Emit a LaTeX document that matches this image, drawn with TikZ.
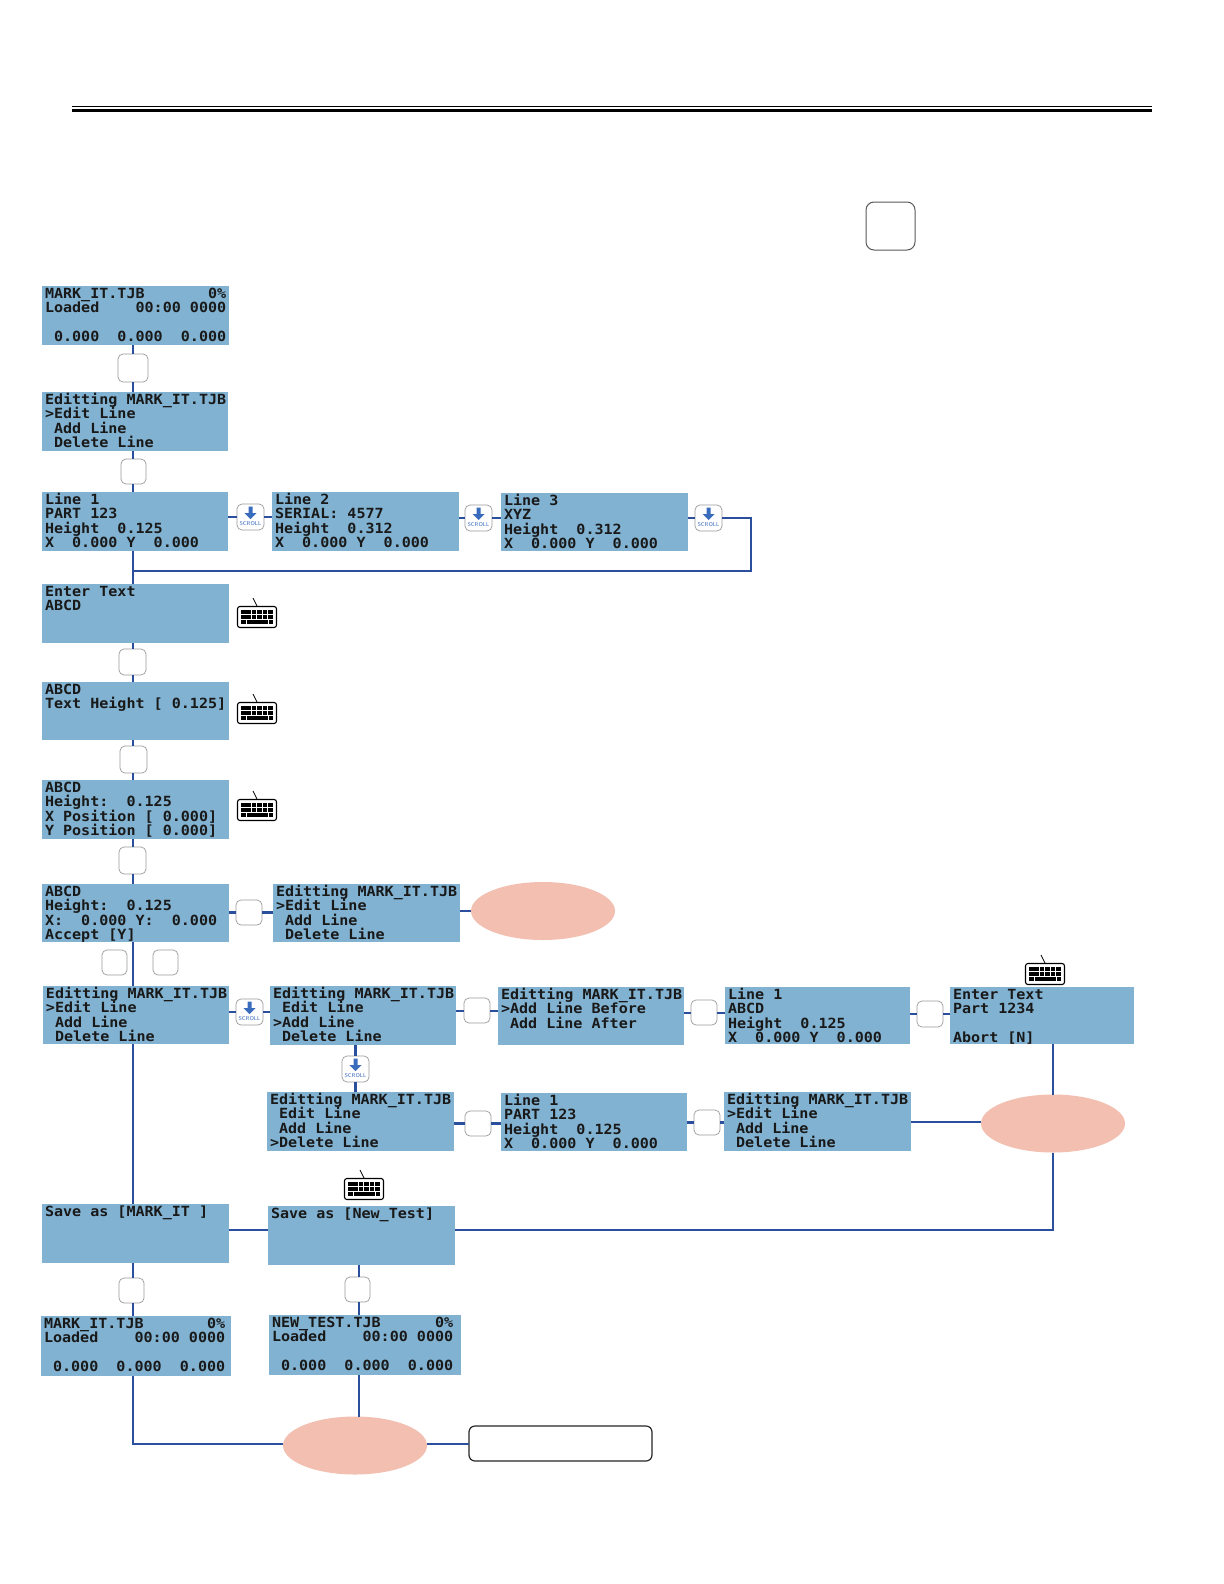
\documentclass[tikz,border=0pt]{standalone}
\usepackage{fontspec}
\setmonofont[FakeStretch=1.075]{DejaVu Sans Mono}
\usetikzlibrary{shapes.geometric}
\definecolor{lcdblue}{HTML}{81B2D1}
\definecolor{wireblue}{HTML}{2A4F9C}
\definecolor{salmon}{HTML}{F2BFB1}
\definecolor{btngray}{HTML}{9A9A9A}
\definecolor{scrollblue}{HTML}{3A6CBE}
\tikzset{
  lcdbox/.style={fill=lcdblue,draw=none,inner sep=0pt,outer sep=0pt},
  lcdtext/.style={inner sep=0pt,outer sep=0pt,align=left,anchor=north west,text=black!90,
    font=\ttfamily\bfseries\fontsize{7}{7.33}\selectfont},
  wire/.style={draw=wireblue,line width=1pt},
  thickwire/.style={draw=wireblue,line width=1.35pt},
  btn/.style={draw=btngray,fill=white,rounded corners=2.5pt,line width=0.35pt,inner sep=0pt,outer sep=0pt},
  oval/.style={ellipse,fill=salmon,draw=none,inner sep=0pt,outer sep=0pt},
  kbkey/.style={fill=black,draw=none},
  scrolltext/.style={text=scrollblue,inner sep=0pt,font=\sffamily\fontsize{2.8}{3}\selectfont}
}
% name, x1, y1, x2, y2, text
\newcommand{\lcd}[6]{%
  \node[lcdbox,minimum width={(#4-#2)*0.5pt},minimum height={(#5-#3)*0.5pt}] (#1) at ({(#2+#4)/2},{(#3+#5)/2}) {};
  \node[lcdtext] (#1t) at ({#2+3},{#3}) {\rule{0pt}{6pt}#6};
}
\newcommand{\btnbox}[5]{%
  \node[btn,minimum width={(#4-#2)*0.5pt},minimum height={(#5-#3)*0.5pt}] (#1) at ({(#2+#4)/2},{(#3+#5)/2}) {};
}
% name, x1, y1 (27 px wide button with arrow and word)
\newcommand{\scrollbtn}[3]{%
  \btnbox{#1}{#2}{#3}{#2+27}{#3+26}
  \fill[scrollblue] ({#2+11.5},{#3+2.5}) -- ({#2+15.5},{#3+2.5}) -- ({#2+15.5},{#3+9}) -- ({#2+19.5},{#3+9})
     -- ({#2+13.5},{#3+15}) -- ({#2+7.5},{#3+9}) -- ({#2+11.5},{#3+9}) -- cycle;
  \node[scrolltext] (#1t) at ({#2+13.5},{#3+19.5}) {SCROLL};
}
% x1, y1 : body is 40 x 22 px, the cord rises above
\newcommand{\kbd}[2]{%
  \draw[line width=0.55pt,fill=white,rounded corners=1.2pt] ({#1+0.5},{#2+0.5}) rectangle ({#1+39.5},{#2+21.5});
  \draw[line width=0.4pt] ({#1+20},{#2}) -- ({#1+16},{#2-8});
  \foreach \kk in {0,...,5}{\fill[kbkey] ({#1+4+\kk*5.4},{#2+4}) rectangle ++(4.5,4);}
  \foreach \kk in {0,...,5}{\fill[kbkey] ({#1+4+\kk*5.4},{#2+9}) rectangle ++(4.5,4);}
  \fill[kbkey] ({#1+4},{#2+14}) rectangle ++(4.5,4);
  \fill[kbkey] ({#1+9.5},{#2+14}) rectangle ++(21,4);
  \fill[kbkey] ({#1+31.5},{#2+14}) rectangle ++(4.5,4);
}
\begin{document}
\begin{tikzpicture}[x=0.5pt,y=-0.5pt]
\lineskiplimit=-100pt\relax
\useasboundingbox (0,0) rectangle (1224,1584);
\fill[white] (0,0) rectangle (1224,1584);
% header rules
\draw[line width=0.5pt] (72,106.5) -- (1152,106.5);
\draw[line width=1.6pt] (72,110.5) -- (1152,110.5);
\node[draw=black!65,fill=white,rounded corners=4pt,line width=0.5pt,minimum width=24.5pt,minimum height=24pt,inner sep=0pt] (topkey) at (890.5,226) {};
% LCD screens
\lcd{a}{42}{286}{229}{345}{MARK\_IT.TJB~~~~~~~0\%\\Loaded~~~~00:00~0000\\~\\~0.000~~0.000~~0.000}
\lcd{b}{42}{392}{228}{451}{Editting~MARK\_IT.TJB\\>Edit~Line\\~Add~Line\\~Delete~Line}
\lcd{c}{42}{492}{228}{551}{Line~1\\PART~123\\Height~~0.125\\X~~0.000~Y~~0.000}
\lcd{d}{272}{492}{459}{551}{Line~2\\SERIAL:~4577\\Height~~0.312\\X~~0.000~Y~~0.000}
\lcd{e}{501}{493}{688}{551}{Line~3\\XYZ\\Height~~0.312\\X~~0.000~Y~~0.000}
\lcd{f}{42}{584}{229}{643}{Enter~Text\\ABCD}
\lcd{g}{42}{682}{229}{740}{ABCD\\Text~Height~[~0.125]}
\lcd{h}{42}{780}{229}{839}{ABCD\\Height:~~0.125\\X~Position~[~0.000]\\Y~Position~[~0.000]}
\lcd{i}{42}{884}{229}{942}{ABCD\\Height:~~0.125\\X:~~0.000~Y:~~0.000\\Accept~[Y]}
\lcd{j}{273}{884}{460}{942}{Editting~MARK\_IT.TJB\\>Edit~Line\\~Add~Line\\~Delete~Line}
\lcd{k}{43}{986}{229}{1044}{Editting~MARK\_IT.TJB\\>Edit~Line\\~Add~Line\\~Delete~Line}
\lcd{l}{270}{986}{456}{1045}{Editting~MARK\_IT.TJB\\~Edit~Line\\>Add~Line\\~Delete~Line}
\lcd{m}{498}{987}{684}{1045}{Editting~MARK\_IT.TJB\\>Add~Line~Before\\~Add~Line~After}
\lcd{n}{725}{987}{910}{1044}{Line~1\\ABCD\\Height~~0.125\\X~~0.000~Y~~0.000}
\lcd{o}{950}{987}{1134}{1044}{Enter~Text\\Part~1234\\~\\Abort~[N]}
\lcd{p}{267}{1092}{454}{1151}{Editting~MARK\_IT.TJB\\~Edit~Line\\~Add~Line\\>Delete~Line}
\lcd{q}{501}{1093}{687}{1151}{Line~1\\PART~123\\Height~~0.125\\X~~0.000~Y~~0.000}
\lcd{r}{724}{1092}{911}{1151}{Editting~MARK\_IT.TJB\\>Edit~Line\\~Add~Line\\~Delete~Line}
\lcd{s}{42}{1204}{229}{1263}{Save~as~[MARK\_IT~]}
\lcd{t}{268}{1206}{455}{1265}{Save~as~[New\_Test]}
\lcd{u}{41}{1316}{231}{1376}{MARK\_IT.TJB~~~~~~~0\%\\Loaded~~~~00:00~0000\\~\\~0.000~~0.000~~0.000}
\lcd{v}{269}{1315}{461}{1375}{NEW\_TEST.TJB~~~~~~0\%\\Loaded~~~~00:00~0000\\~\\~0.000~~0.000~~0.000}
% ovals
\node[oval,minimum width=72pt,minimum height=29pt] (ov1) at (543,911) {};
\node[oval,minimum width=72pt,minimum height=29pt] (ov2) at (1053,1123.5) {};
\node[oval,minimum width=72pt,minimum height=29pt] (ov3) at (355,1445.5) {};
\node[draw=black!85,fill=white,line width=0.6pt,rounded corners=3pt,minimum width=91.5pt,minimum height=17.5pt,inner sep=0pt,outer sep=0pt] (finish) at (560.5,1443.5) {};
% junction points
\coordinate (tr) at (133,0);
\coordinate (c1) at (751,518);
\coordinate (c2) at (751,571);
\coordinate (c3) at (133,1444);
\coordinate (yA) at (0,1122);
\coordinate (yB) at (0,1230);
\coordinate (xB) at (359,0);
\coordinate (xC) at (1053,0);
% buttons
\btnbox{b1}{118}{354}{148}{382}
\btnbox{b2}{121}{459}{146}{484}
\scrollbtn{s1}{237}{504}
\scrollbtn{s2}{465}{505}
\scrollbtn{s3}{695}{505}
\btnbox{b3}{119}{649}{146}{675}
\btnbox{b4}{120}{746}{147}{773}
\btnbox{b5}{119}{847}{146}{874}
\btnbox{b6}{236}{900}{262}{925}
\btnbox{b7}{102}{950}{127}{975}
\btnbox{b8}{153}{950}{178}{975}
\scrollbtn{s4}{236}{999}
\btnbox{b9}{464}{998}{490}{1023}
\btnbox{b10}{691}{1000}{717}{1025}
\btnbox{b11}{917}{1001}{943}{1027}
\scrollbtn{s5}{342}{1056}
\btnbox{b12}{465}{1111}{491}{1136}
\btnbox{b13}{694}{1110}{720}{1135}
\btnbox{b14}{119}{1278}{144}{1303}
\btnbox{b15}{345}{1277}{370}{1302}
% keyboards
\kbd{237}{606}
\kbd{237}{702}
\kbd{237}{799}
\kbd{1025}{963}
\kbd{344}{1178}
% connectors, vertical trunk
\draw[wire] (a.south -| tr) -- (b1.north -| tr);
\draw[wire] (b1.south -| tr) -- (b.north -| tr);
\draw[wire] (b.south -| tr) -- (b2.north -| tr);
\draw[wire] (b2.south -| tr) -- (c.north -| tr);
\draw[wire] (c.south -| tr) -- (f.north -| tr);
\draw[wire] (f.south -| tr) -- (b3.north -| tr);
\draw[wire] (b3.south -| tr) -- (g.north -| tr);
\draw[wire] (g.south -| tr) -- (b4.north -| tr);
\draw[wire] (b4.south -| tr) -- (h.north -| tr);
\draw[wire] (h.south -| tr) -- (b5.north -| tr);
\draw[wire] (b5.south -| tr) -- (i.north -| tr);
\draw[wire] (i.south -| tr) -- (k.north -| tr);
\draw[wire] (k.south -| tr) -- (s.north -| tr);
\draw[wire] (s.south -| tr) -- (b14.north -| tr);
\draw[wire] (b14.south -| tr) -- (u.north -| tr);
\draw[wire] (u.south -| tr) -- (c3) -- (ov3.west |- c3);
% scroll row
\draw[wire] (c.east |- s1) -- (s1.west);
\draw[wire] (s1.east) -- (d.west |- s1);
\draw[wire] (d.east |- s2) -- (s2.west);
\draw[wire] (s2.east) -- (e.west |- s2);
\draw[wire] (e.east |- s3) -- (s3.west);
\draw[thickwire] (s3.east) -- (c1) -- (c2) -- (c2 -| tr);
% accept row
\draw[thickwire] (i.east |- b6) -- (b6.west);
\draw[thickwire] (b6.east) -- (j.west |- b6);
\draw[thickwire] (j.east |- ov1) -- (ov1.west);
% edit row
\draw[wire] (k.east |- s4) -- (s4.west);
\draw[wire] (s4.east) -- (l.west |- s4);
\draw[wire] (l.east |- b9) -- (b9.west);
\draw[wire] (b9.east) -- (m.west |- b9);
\draw[wire] (m.east |- b10) -- (b10.west);
\draw[wire] (b10.east) -- (n.west |- b10);
\draw[wire] (n.east |- b11) -- (b11.west);
\draw[wire] (b11.east) -- (o.west |- b11);
\draw[thickwire] (s5.north) -- (s5.north |- l.south);
\draw[thickwire] (s5.south) -- (s5.south |- p.north);
% delete row
\draw[thickwire] (p.east |- b12) -- (b12.west);
\draw[thickwire] (b12.east) -- (q.west |- b12);
\draw[thickwire] (q.east |- b13) -- (b13.west);
\draw[thickwire] (b13.east) -- (r.west |- b13);
\draw[thickwire] (r.east |- yA) -- (ov2.west |- yA);
\draw[thickwire] (o.south -| xC) -- (ov2.north -| xC);
\draw[thickwire] (ov2.south -| xC) -- (yB -| xC) -- (t.east |- yB);
\draw[thickwire] (s.east |- yB) -- (t.west |- yB);
% bottom
\draw[wire] (t.south -| xB) -- (b15.north -| xB);
\draw[wire] (b15.south -| xB) -- (v.north -| xB);
\draw[wire] (v.south -| xB) -- (ov3.north -| xB);
\draw[wire] (ov3.east |- finish) -- (finish.west);
\end{tikzpicture}
\end{document}
